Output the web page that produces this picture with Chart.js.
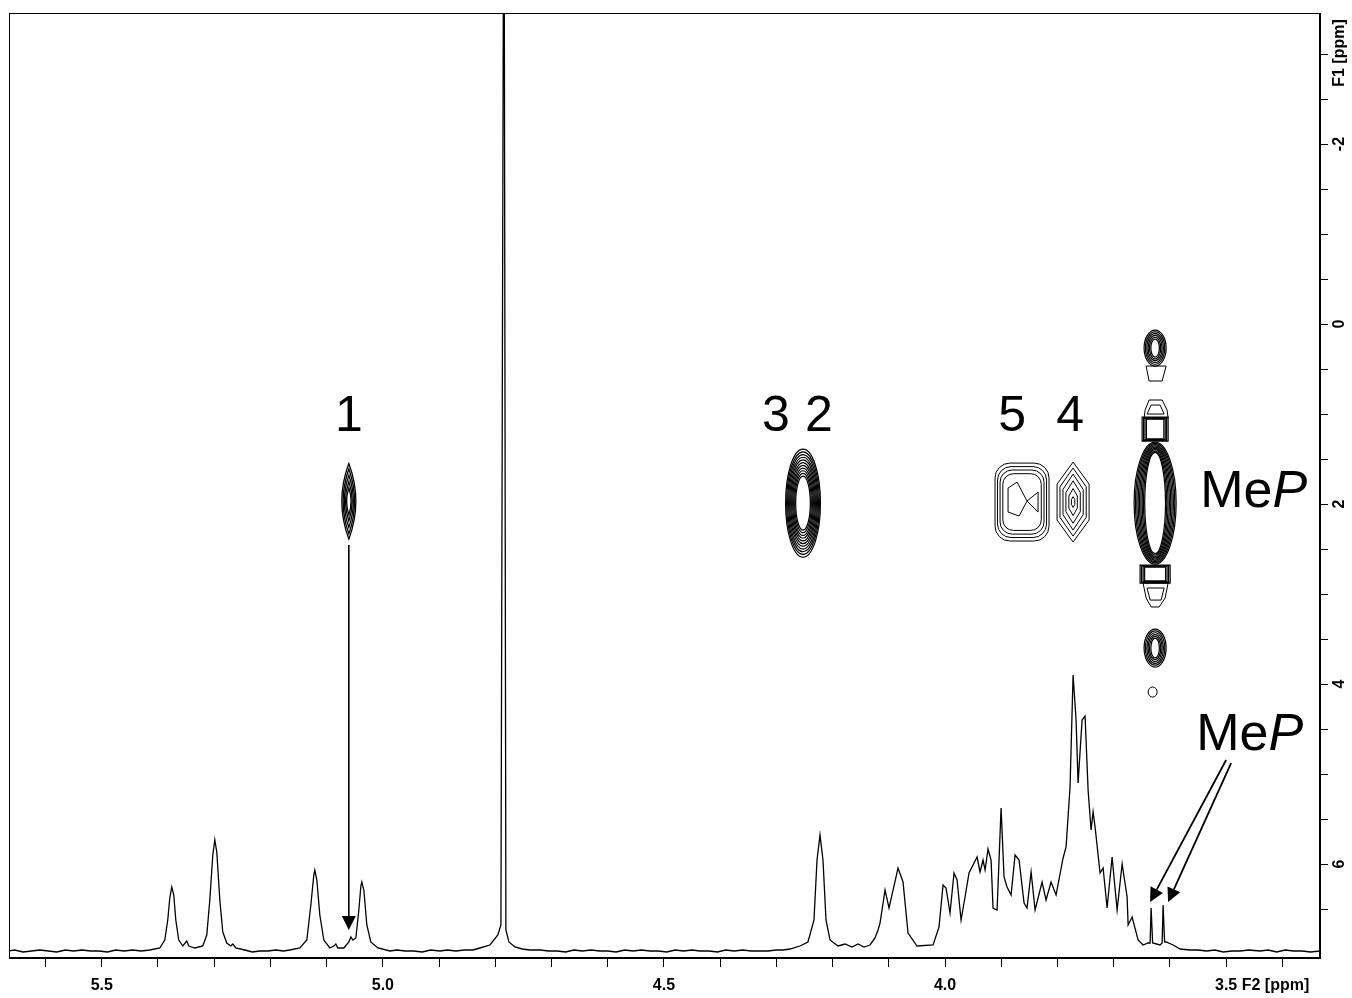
<!DOCTYPE html>
<html><head><meta charset="utf-8">
<script src="https://cdn.jsdelivr.net/npm/chart.js@4.4.0/dist/chart.umd.min.js"></script>
<style>html,body{margin:0;padding:0;background:#fff;}#wrap{width:1352px;height:998px;}</style>
</head><body><div id="wrap"><canvas id="c" width="1352" height="998"></canvas></div>
<script>
// ---- 1D projection (F2, ppm) : chemical shift / intensity (a.u.)
const specPpm = [
  5.6655,5.655,5.640,5.625,5.610,5.595,5.580,5.565,5.550,5.535,5.520,5.505,5.490,5.475,5.460,5.445,5.430,5.4146,
  5.3968,5.3879,5.3826,5.3790,5.3755,5.3719,5.3683,5.3630,5.3559,5.3488,5.3452,5.3345,
  5.3203,5.3132,5.3078,5.3025,5.2989,5.2954,5.2900,5.2847,5.2776,5.2705,5.2669,5.2616,5.2456,5.2320,5.2189,5.2050,5.1900,5.1770,5.1655,
  5.1477,5.1352,5.1281,5.1228,5.1210,5.1174,5.1121,5.1050,5.0943,5.0872,5.0836,5.0801,5.0694,
  5.0605,5.0569,5.0534,5.0480,5.0427,5.0391,5.0374,5.0338,5.0285,5.0214,5.0089,
  4.9875,4.975,4.960,4.945,4.930,4.915,4.8986,4.885,4.870,4.855,4.840,4.8274,4.8096,
  4.7954,4.7900,4.7850,4.7844,4.7811,4.7758,4.7651,4.7520,4.7384,
  4.720,4.705,4.690,4.675,4.660,4.645,4.630,4.6139,4.600,4.585,4.570,4.555,4.540,4.525,4.510,4.495,4.480,4.465,4.450,4.4359,4.420,4.405,4.390,4.375,4.360,4.345,4.3292,4.315,4.300,4.2880,
  4.2758,4.2580,4.2438,4.2331,4.2277,4.2224,4.2171,4.2117,4.2046,4.1904,4.1779,4.1655,4.1548,4.1441,4.1334,4.1245,4.1192,
  4.1156,4.1067,4.0996,4.0836,4.0747,4.0658,4.0498,4.0213,
  4.0107,4.0035,3.9982,3.9911,3.9840,3.9786,3.9715,3.9644,3.9573,3.9502,3.9430,3.9377,3.9324,3.9288,3.9235,3.9181,
  3.9146,3.9074,3.9003,3.8950,3.8897,3.8825,3.8754,3.8683,3.8594,3.8541,3.8469,3.8398,3.8274,3.8203,3.8114,3.8025,
  3.7900,3.7847,3.7776,3.7722,3.7669,3.7633,3.7562,3.7509,3.7455,3.7402,3.7366,3.7331,3.7242,3.7188,3.7117,3.7028,3.6939,3.6850,3.6761,3.6743,3.6672,3.6566,3.6477,
  3.6388,3.6352,3.6334,3.6307,3.6174,3.6138,3.6121,3.6094,3.6067,3.5943,3.5818,3.5640,
  3.550,3.535,3.520,3.505,3.490,3.475,3.460,3.4395,3.425,3.410,3.395,3.380,3.365,3.350,3.3327];
const specInt = [
  1,2,0,1,2,1,0,2,1,2,1,1,0,2,1,2,1,2,
  4,12,32,54,65,57,32,12,6,11,6,4,
  6,17,52,97,112,100,52,20,9,6,8,4,2,0,1,1,2,1,2,
  4,12,47,77,82,72,37,12,4,6,8,4,4,
  10,15,12,14,42,66,70,62,27,10,4,
  1,2,1,1,0,2,1,2,1,2,2,4,7,
  17,27,1100,1100,22,10,5,3,2,
  2,1,1,0,2,1,2,1,1,0,2,1,2,1,1,0,2,1,2,1,1,0,2,1,2,1,1,1,2,2,
  3,6,10,32,92,117,92,32,12,6,8,5,8,5,7,14,22,
  29,62,44,84,70,19,6,7,
  25,67,64,39,79,72,32,55,79,87,95,80,92,82,103,92,
  44,42,144,75,65,57,97,92,49,44,80,42,70,52,70,57,
  94,105,165,277,232,169,232,236,162,122,140,125,79,84,44,95,42,88,55,27,35,12,7,
  9,9,44,9,7,9,47,10,10,7,3,2,
  2,1,2,0,1,1,2,1,2,0,2,1,1,0,1];

// ---- axes
const f2TickValues = [3.4,3.5,3.6,3.7,3.8,3.9,4.0,4.1,4.2,4.3,4.4,4.5,4.6,4.7,4.8,4.9,5.0,5.1,5.2,5.3,5.4,5.5,5.6];
const f2LabelValues = [5.5,5.0,4.5,4.0,3.5];
const f2LabelTexts = ['5.5','5.0','4.5','4.0','3.5'];
const f2Unit = 'F2 [ppm]';
const f1TickValues = [-3,-2.5,-2,-1.5,-1,-0.5,0,0.5,1,1.5,2,2.5,3,3.5,4,4.5,5,5.5,6,6.5];
const f1LabelValues = [-2,0,2,4,6];
const f1LabelTexts = ['-2','0','2','4','6'];
const f1Unit = 'F1 [ppm]';

// ---- 2D cross peaks (F2 ppm, F1 ppm, contour half widths in ppm)
const contourShape = ['lens','ellipse','rrect','hex','ellipse','ellipse','rect','rect','ellipse','ellipse'];
const contourF2 = [5.0605,4.2526,3.8630,3.7722,3.6263,3.6263,3.6263,3.6263,3.6263,3.6307];
const contourF1 = [1.97,1.99,1.978,1.978,0.267,1.989,1.167,2.778,3.60,4.089];
const contourHalfW = [
  [0.0125,0.0102,0.0080,0.0060,0.0040],
  [0.0310,0.0292,0.0274,0.0256,0.0238,0.0220,0.0202,0.0184,0.0166,0.0148,0.0130],
  [0.0480,0.0436,0.0391,0.0342],
  [0.0285,0.0233,0.0180,0.0128,0.0075,0.0030],
  [0.0196,0.0172,0.0148,0.0124,0.0100,0.0076],
  [0.0374,0.0350,0.0326,0.0302,0.0278,0.0254,0.0230,0.0207,0.0185],
  [0.0231,0.0205,0.0180,0.0155],
  [0.0267,0.0240,0.0213,0.0186],
  [0.0196,0.0172,0.0148,0.0124,0.0100,0.0076],
  [0.0080]
];
const contourHalfH = [
  [0.42,0.36,0.29,0.22,0.15],
  [0.60,0.57,0.54,0.51,0.48,0.45,0.42,0.39,0.36,0.33,0.30],
  [0.433,0.394,0.356,0.315],
  [0.444,0.378,0.311,0.236,0.150,0.060],
  [0.200,0.180,0.160,0.140,0.120,0.100],
  [0.678,0.664,0.650,0.636,0.622,0.608,0.594,0.578,0.562],
  [0.133,0.125,0.117,0.109],
  [0.100,0.092,0.084,0.076],
  [0.211,0.190,0.170,0.150,0.130,0.110],
  [0.056]
];
const contourLw = [1.3,1.2,1,1,1.2,1.2,1.2,1.2,1.2,1];
// extra contour outlines (F2, F1 vertices)
const polyF2 = [
  [3.8879,3.8718,3.8541,3.8683,3.8879],
  [3.8541,3.8345,3.8345],
  [3.6423,3.6067,3.6138,3.6370],
  [3.6370,3.6138,3.6050,3.6032,3.6459,3.6441],
  [3.6334,3.6174,3.6103,3.6406],
  [3.6477,3.6032,3.6085,3.6192,3.6334,3.6423],
  [3.6406,3.6103,3.6156,3.6352]
];
const polyF1 = [
  [1.822,1.756,1.967,2.133,2.089],
  [1.967,1.867,2.089],
  [0.467,0.467,0.633,0.633],
  [0.844,0.844,0.956,1.044,1.044,0.956],
  [0.900,0.900,1.000,1.000],
  [2.878,2.878,3.044,3.144,3.144,3.044],
  [2.933,2.933,3.067,3.067]
];

// ---- annotations (data coordinates)
const annoText = ['1','3','2','5','4'];
const annoF2 = [5.0605,4.3007,4.2242,3.8807,3.7776];
const annoF1 = [1.04,1.04,1.04,1.04,1.04];
const mepF2 = [3.5462,3.5533];
const mepF1 = [2.033,4.733];
const arrowFromF2 = [5.0605,3.5000,3.4911];
const arrowFromF1 = [2.456,4.844,4.878];
const arrowToF2 = [5.0605,3.6352,3.6032];
const arrowToF1 = [6.733,6.422,6.422];

const FONT = '"Liberation Sans", Arial, sans-serif';

function shapePath(ctx, type, cx, cy, w, h){
  if (type==='ellipse'){ ctx.ellipse(cx,cy,w,h,0,0,Math.PI*2); }
  else if (type==='lens'){ ctx.moveTo(cx,cy-h); ctx.quadraticCurveTo(cx+2*w,cy,cx,cy+h); ctx.quadraticCurveTo(cx-2*w,cy,cx,cy-h); ctx.closePath(); }
  else if (type==='hex'){ ctx.moveTo(cx,cy-h); ctx.lineTo(cx+w,cy-0.45*h); ctx.lineTo(cx+w,cy+0.45*h); ctx.lineTo(cx,cy+h); ctx.lineTo(cx-w,cy+0.45*h); ctx.lineTo(cx-w,cy-0.45*h); ctx.closePath(); }
  else if (type==='rrect'){ const r=Math.min(w,h)*0.55; ctx.roundRect(cx-w,cy-h,2*w,2*h,r); }
  else { ctx.rect(cx-w,cy-h,2*w,2*h); }
}
function arrow(ctx,x1,y1,x2,y2,lw){
  const ang=Math.atan2(y2-y1,x2-x1), L=14, W=7;
  const bx=x2-L*Math.cos(ang), by=y2-L*Math.sin(ang);
  ctx.lineWidth=lw; ctx.beginPath(); ctx.moveTo(x1,y1); ctx.lineTo(bx,by); ctx.stroke();
  ctx.beginPath(); ctx.moveTo(x2,y2);
  ctx.lineTo(bx+W*Math.sin(ang),by-W*Math.cos(ang));
  ctx.lineTo(bx-W*Math.sin(ang),by+W*Math.cos(ang)); ctx.closePath(); ctx.fill();
}

const overlay = {
  id:'overlay',
  afterDatasetsDraw(chart){
    const {ctx, chartArea:a} = chart; const x=chart.scales.x, y=chart.scales.yF1;
    ctx.save();
    ctx.beginPath(); ctx.rect(a.left,a.top,a.right-a.left,a.bottom-a.top); ctx.clip();
    ctx.strokeStyle='#000'; ctx.fillStyle='#000';
    for (let i=0;i<contourShape.length;i++){
      const cx=x.getPixelForValue(contourF2[i]), cy=y.getPixelForValue(contourF1[i]);
      ctx.lineWidth=contourLw[i];
      for (let k=0;k<contourHalfW[i].length;k++){
        const w=Math.abs(x.getPixelForValue(contourF2[i]-contourHalfW[i][k])-cx);
        const h=Math.abs(y.getPixelForValue(contourF1[i]+contourHalfH[i][k])-cy);
        ctx.beginPath(); shapePath(ctx,contourShape[i],cx,cy,w,h); ctx.stroke();
      }
    }
    ctx.lineWidth=1;
    for (let p=0;p<polyF2.length;p++){
      ctx.beginPath();
      polyF2[p].forEach((v,j)=>{ const px=x.getPixelForValue(v), py=y.getPixelForValue(polyF1[p][j]); j?ctx.lineTo(px,py):ctx.moveTo(px,py); });
      ctx.closePath(); ctx.stroke();
    }
    ctx.font='50px '+FONT; ctx.textAlign='center'; ctx.textBaseline='middle';
    annoText.forEach((t,i)=>ctx.fillText(t,x.getPixelForValue(annoF2[i]),y.getPixelForValue(annoF1[i])));
    ctx.textAlign='left'; ctx.textBaseline='alphabetic';
    mepF2.forEach((v,i)=>{
      const px=x.getPixelForValue(v), py=y.getPixelForValue(mepF1[i]);
      ctx.font='52px '+FONT; ctx.fillText('Me',px,py);
      const w=ctx.measureText('Me').width;
      ctx.font='italic 52px '+FONT; ctx.fillText('P',px+w,py);
    });
    arrowFromF2.forEach((v,i)=>arrow(ctx,x.getPixelForValue(v),y.getPixelForValue(arrowFromF1[i]),x.getPixelForValue(arrowToF2[i]),y.getPixelForValue(arrowToF1[i]), i===0?1.6:1.8));
    ctx.restore();
  },
  afterDraw(chart){
    const {ctx, chartArea:a} = chart; const x=chart.scales.x, y=chart.scales.yF1;
    ctx.save();
    ctx.strokeStyle='#000'; ctx.lineWidth=1;
    ctx.strokeRect(a.left+0.5,a.top+0.5,a.right-a.left-1,a.bottom-a.top-1);
    ctx.fillStyle='#000'; ctx.font='bold 16px '+FONT;
    ctx.textAlign='center'; ctx.textBaseline='middle';
    f2LabelValues.forEach((v,i)=>ctx.fillText(f2LabelTexts[i],x.getPixelForValue(v),986));
    const p35=x.getPixelForValue(3.5);
    ctx.textAlign='left';
    ctx.fillText(' '+f2Unit, p35+ctx.measureText('3.5').width/2, 986);
    ctx.textAlign='center';
    f1LabelValues.forEach((v,i)=>{
      ctx.save(); ctx.translate(1340,y.getPixelForValue(v)); ctx.rotate(-Math.PI/2);
      ctx.fillText(f1LabelTexts[i],0,0); ctx.restore();
    });
    ctx.save(); ctx.translate(1340,a.top+40); ctx.rotate(-Math.PI/2); ctx.fillText(f1Unit,0,0); ctx.restore();
    ctx.restore();
  }
};

new Chart(document.getElementById('c'), {
  type:'line',
  data:{ datasets:[{
    data: specPpm.map((p,i)=>({x:p,y:specInt[i]})),
    borderColor:'#000', borderWidth:1.3, pointRadius:0, tension:0, yAxisID:'yS', xAxisID:'x'
  }]},
  options:{
    responsive:false, animation:false, devicePixelRatio:1,
    layout:{padding:{left:9,top:13,right:0,bottom:0}},
    plugins:{legend:{display:false}, tooltip:{enabled:false}},
    scales:{
      x:{ type:'linear', position:'bottom', reverse:true, min:3.333, max:5.665,
        afterBuildTicks:s=>{ s.ticks=f2TickValues.map(v=>({value:v})); },
        afterFit:s=>{ s.height=40; },
        grid:{drawOnChartArea:false, drawTicks:true, tickLength:9, color:'#000'},
        border:{display:true,color:'#000'},
        ticks:{ autoSkip:false, maxRotation:0, callback:()=>'' }
      },
      yF1:{ type:'linear', position:'right', reverse:true, min:-3.456, max:7.044,
        afterBuildTicks:s=>{ s.ticks=f1TickValues.map(v=>({value:v})); },
        afterFit:s=>{ s.width=32; },
        grid:{drawOnChartArea:false, drawTicks:true, tickLength:8, color:'#000'},
        border:{display:true,color:'#000'},
        ticks:{ autoSkip:false, callback:()=>'' }
      },
      yS:{ type:'linear', display:false, min:-6, max:939 }
    }
  },
  plugins:[overlay]
});
</script></body></html>
